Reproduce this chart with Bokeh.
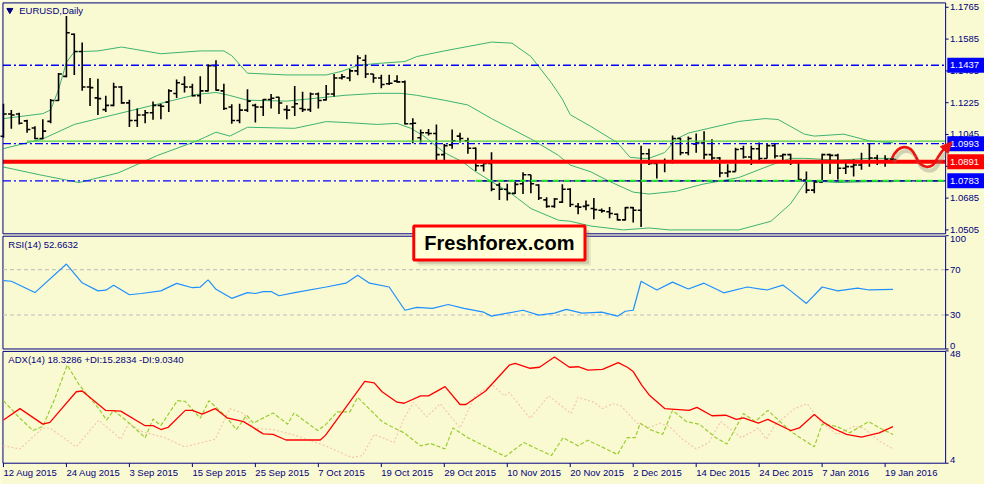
from bokeh.plotting import figure
from bokeh.models import Range1d
from bokeh.embed import file_html
from bokeh.resources import INLINE
from bokeh.core.properties import value

# ---------------- data ----------------
opens = [1.1035, 1.1161, 1.1161, 1.1122, 1.1082, 1.1022, 1.1119, 1.1237, 1.1374, 1.1612,
         1.1515, 1.1314, 1.1252, 1.1186, 1.1210, 1.1314, 1.1224, 1.1124, 1.1155, 1.1168,
         1.1210, 1.1228, 1.1277, 1.1329, 1.1314, 1.1265, 1.1292, 1.1435, 1.1292, 1.1201,
         1.1124, 1.1183, 1.1210, 1.1201, 1.1243, 1.1256, 1.1186, 1.1201, 1.1192, 1.1186,
         1.1274, 1.1241, 1.1274, 1.1365, 1.1365, 1.1405, 1.1465, 1.1387, 1.1365, 1.1332,
         1.1347, 1.1343, 1.1106, 1.1027, 1.1055, 1.1051, 1.0931, 1.0986, 1.1036, 1.1009,
         1.0967, 1.0868, 1.0881, 1.0759, 1.0735, 1.0712, 1.0766, 1.0817, 1.0759, 1.0675,
         1.0638, 1.0662, 1.0735, 1.0638, 1.0638, 1.0626, 1.0616, 1.0608, 1.0594, 1.0562,
         1.0631, 1.0616, 1.0936, 1.0881, 1.0890, 1.0894, 1.1022, 1.0942, 1.0991, 1.0997,
         1.0931, 1.0912, 1.0827, 1.0835, 1.0964, 1.0918, 1.0964, 1.0909, 1.0982, 1.0923,
         1.0931, 1.0887, 1.0787, 1.0730, 1.0777, 1.0931, 1.0927, 1.0854, 1.0863, 1.0872,
         1.0890, 1.0912, 1.0894, 1.0905]
highs = [1.1219, 1.1184, 1.1168, 1.1128, 1.1091, 1.1131, 1.1246, 1.1393, 1.1716, 1.1617,
         1.1566, 1.1365, 1.1361, 1.1265, 1.1338, 1.1320, 1.1241, 1.1192, 1.1183, 1.1232,
         1.1219, 1.1301, 1.1356, 1.1375, 1.1332, 1.1375, 1.1442, 1.1465, 1.1332, 1.1216,
         1.1219, 1.1301, 1.1219, 1.1246, 1.1274, 1.1259, 1.1210, 1.1320, 1.1287, 1.1283,
         1.1283, 1.1325, 1.1387, 1.1387, 1.1416, 1.1493, 1.1497, 1.1387, 1.1383, 1.1383,
         1.1380, 1.1350, 1.1137, 1.1073, 1.1076, 1.1101, 1.0991, 1.1073, 1.1055, 1.1027,
         1.0972, 1.0890, 1.0945, 1.0772, 1.0766, 1.0777, 1.0832, 1.0817, 1.0763, 1.0690,
         1.0686, 1.0763, 1.0741, 1.0657, 1.0671, 1.0686, 1.0626, 1.0635, 1.0598, 1.0635,
         1.0635, 1.0982, 1.0964, 1.0900, 1.0909, 1.1040, 1.1027, 1.1033, 1.1051, 1.1064,
         1.1018, 1.0918, 1.0876, 1.0970, 1.0982, 1.0982, 1.1000, 1.0991, 1.0991, 1.0936,
         1.0936, 1.0900, 1.0835, 1.0785, 1.0936, 1.0936, 1.0936, 1.0900, 1.0905, 1.0942,
         1.0991, 1.0931, 1.0927, 1.0912]
lows = [1.1027, 1.1077, 1.1101, 1.1055, 1.1018, 1.1018, 1.1109, 1.1234, 1.1369, 1.1382,
        1.1292, 1.1206, 1.1155, 1.1173, 1.1205, 1.1219, 1.1087, 1.1087, 1.1109, 1.1128,
        1.1131, 1.1173, 1.1252, 1.1283, 1.1260, 1.1219, 1.1288, 1.1292, 1.1183, 1.1106,
        1.1109, 1.1173, 1.1113, 1.1150, 1.1192, 1.1161, 1.1131, 1.1150, 1.1173, 1.1173,
        1.1192, 1.1237, 1.1260, 1.1356, 1.1347, 1.1380, 1.1365, 1.1338, 1.1307, 1.1325,
        1.1338, 1.1101, 1.0996, 1.1000, 1.1040, 1.0900, 1.0900, 1.0964, 1.1000, 1.0936,
        1.0838, 1.0835, 1.0724, 1.0675, 1.0671, 1.0708, 1.0708, 1.0712, 1.0675, 1.0631,
        1.0631, 1.0657, 1.0635, 1.0594, 1.0616, 1.0565, 1.0602, 1.0571, 1.0558, 1.0558,
        1.0547, 1.0521, 1.0872, 1.0796, 1.0832, 1.0881, 1.0927, 1.0927, 1.0942, 1.0905,
        1.0890, 1.0803, 1.0803, 1.0835, 1.0909, 1.0872, 1.0900, 1.0909, 1.0909, 1.0900,
        1.0872, 1.0781, 1.0712, 1.0712, 1.0772, 1.0821, 1.0790, 1.0821, 1.0808, 1.0845,
        1.0863, 1.0872, 1.0863, 1.0900]
closes = [1.1161, 1.1155, 1.1109, 1.1073, 1.1022, 1.1064, 1.1237, 1.1387, 1.1621, 1.1515,
          1.1314, 1.1310, 1.1248, 1.1210, 1.1314, 1.1224, 1.1124, 1.1155, 1.1168, 1.1210,
          1.1205, 1.1292, 1.1338, 1.1314, 1.1265, 1.1292, 1.1435, 1.1296, 1.1192, 1.1124,
          1.1183, 1.1234, 1.1201, 1.1243, 1.1250, 1.1223, 1.1183, 1.1219, 1.1186, 1.1274,
          1.1237, 1.1274, 1.1365, 1.1371, 1.1405, 1.1478, 1.1387, 1.1365, 1.1328, 1.1335,
          1.1343, 1.1106, 1.1109, 1.1055, 1.1051, 1.0931, 1.0982, 1.1009, 1.1022, 1.0967,
          1.0868, 1.0881, 1.0735, 1.0735, 1.0712, 1.0763, 1.0817, 1.0766, 1.0686, 1.0638,
          1.0680, 1.0735, 1.0649, 1.0634, 1.0644, 1.0620, 1.0613, 1.0598, 1.0562, 1.0631,
          1.0616, 1.0936, 1.0881, 1.0890, 1.0894, 1.1022, 1.0942, 1.1022, 1.0997, 1.0931,
          1.0912, 1.0827, 1.0835, 1.0960, 1.0918, 1.0964, 1.0909, 1.0982, 1.0923, 1.0931,
          1.0887, 1.0790, 1.0730, 1.0777, 1.0931, 1.0927, 1.0854, 1.0863, 1.0872, 1.0890,
          1.0912, 1.0894, 1.0905, 1.0903]

# Bollinger bands (bar index, price)
bb_up_i = [0, 5, 6, 7, 8, 9, 12, 15, 20, 25, 28, 29, 31, 36, 41, 43, 45, 47.5, 51, 52.5,
           56, 62, 64.6, 67, 69.6, 71, 72, 74.6, 78, 79.6, 81, 82, 84, 85.5, 87, 89.6, 93.4,
           96.75, 98.4, 101.75, 103, 106.75, 110, 113]
bb_up = [1.1135, 1.1163, 1.1184, 1.1299, 1.1453, 1.1513, 1.1518, 1.1540, 1.1502, 1.1518,
         1.1518, 1.1491, 1.1392, 1.1382, 1.1382, 1.1403, 1.1436, 1.1447, 1.1458, 1.1486,
         1.1518, 1.1568, 1.1562, 1.1486, 1.1338, 1.1245, 1.1157, 1.1091, 1.0998, 1.0916,
         1.0910, 1.0910, 1.0943, 1.1020, 1.1053, 1.1080, 1.1119, 1.1135, 1.1130, 1.1047,
         1.1036, 1.1047, 1.1009, 1.0998]
bb_mid_i = [0, 5, 9, 19.6, 24.6, 27, 28.75, 31, 36, 41, 43.4, 47.5, 50.5, 52.5, 56, 59, 62,
            67, 70.5, 72, 74.6, 77, 80, 82, 85.5, 88.75, 93.4, 97.5, 100, 101.75, 106, 110, 113]
bb_mid = [1.0965, 1.1020, 1.1102, 1.1217, 1.1272, 1.1283, 1.1266, 1.1239, 1.1234, 1.1256,
          1.1267, 1.1278, 1.1278, 1.1267, 1.1239, 1.1212, 1.1135, 1.1020, 1.0927, 1.0872,
          1.0834, 1.0779, 1.0719, 1.0708, 1.0724, 1.0763, 1.0801, 1.0872, 1.0910, 1.0910,
          1.0900, 1.0910, 1.0910]
bb_lo_i = [0, 4.6, 9.6, 14.6, 19.6, 24.6, 27, 28.75, 31, 37, 41, 43.4, 47.5, 50, 51.75, 53.4,
           56, 58.4, 60, 62, 64.6, 67, 70.5, 72, 74.6, 78.75, 82, 84.6, 93.4, 97.5, 100, 102,
           106, 110, 113]
bb_lo = [1.0861, 1.0817, 1.0773, 1.0828, 1.0927, 1.1009, 1.1058, 1.1036, 1.1086, 1.1080,
         1.1118, 1.1113, 1.1102, 1.1108, 1.1080, 1.1036, 1.0943, 1.0888, 1.0834, 1.0779,
         1.0708, 1.0626, 1.0560, 1.0554, 1.0527, 1.0505, 1.0516, 1.0505, 1.0505, 1.0554,
         1.0653, 1.0784, 1.0773, 1.0778, 1.0778]

# RSI(14)
rsi_i = [0, 1, 4, 8, 10, 12, 13, 14, 16, 17.5, 20, 22, 24, 25, 26, 27, 29, 31, 32, 33,
         34, 35, 37, 41, 43.5, 45, 46.5, 49, 51, 52.5, 54.5, 56.5, 58.5, 61, 62, 64, 66, 68,
         70, 71.5, 73.5, 76, 78, 79, 80, 81, 83, 85, 87, 89, 91.5, 94.5, 97, 99, 100, 102,
         104, 106, 108.5, 110, 113]
rsi = [60.4, 59.8, 49.8, 75.0, 58.4, 51.3, 51.9, 56.2, 47.9, 49.0, 51.3, 57.9, 54.1, 54.7,
       61.0, 52.7, 44.7, 49.8, 49.0, 50.7, 50.7, 47.0, 49.8, 54.7, 58.1, 65.0, 58.1, 54.7,
       34.2, 36.8, 35.9, 39.3, 35.9, 32.5, 29.0, 31.6, 34.2, 29.9, 31.6, 35.0, 31.6, 32.5,
       29.0, 33.3, 34.2, 59.8, 52.1, 59.0, 53.0, 58.1, 49.6, 54.7, 52.1, 56.4, 51.3, 40.2,
       54.7, 51.3, 53.8, 52.1, 52.7]

# ADX(14), +DI, -DI
adx_i = [0, 2.1, 5, 5.9, 9.25, 10, 13, 14.9, 18, 19, 20, 20.9, 23.1, 24, 25.25, 26.9, 28.4,
         30.5, 33, 34.25, 35.9, 40.25, 40.9, 45.9, 47.1, 48.1, 50, 50.9, 53, 54, 56.1, 58,
         58.75, 61.25, 64.25, 65, 66.9, 68.1, 70, 71.9, 73, 74.25, 76.1, 78.1, 79.25, 80,
         81.1, 82.1, 84, 87.1, 88.1, 90, 91.75, 93.1, 94, 95.9, 97.1, 100, 101.1, 103,
         104.25, 105.5, 107.1, 109, 111.25, 113]
adx = [20.9, 25.4, 19.3, 20.0, 32.0, 32.3, 24.7, 24.4, 18.7, 18.7, 17.2, 18.0, 24.7, 24.7,
       23.2, 25.4, 21.8, 20.3, 15.5, 15.3, 13.1, 13.1, 14.9, 36.1, 35.5, 32.0, 27.9, 27.5,
       30.4, 30.4, 34.0, 27.0, 27.0, 32.3, 42.4, 43.1, 41.2, 41.6, 45.6, 41.6, 41.8, 40.5,
       40.8, 43.4, 41.6, 39.9, 34.5, 30.5, 25.4, 24.7, 25.9, 22.6, 22.8, 21.2, 21.8, 19.7,
       21.2, 16.8, 17.8, 23.1, 19.9, 17.5, 15.3, 14.2, 15.9, 18.3]
pdi_i = [0, 2.1, 3.75, 5, 6.5, 8.1, 9.6, 12.1, 13.1, 14, 15.9, 18, 19, 20, 22.1, 23.1, 25,
         26.1, 28.1, 29.6, 30.9, 31.75, 34.25, 36.1, 36.9, 39.9, 40.9, 42.4, 44, 45, 48.1,
         49.25, 50.9, 53, 54.25, 56.1, 57.1, 59, 63.75, 66.1, 69.6, 71.1, 73, 74.25, 78,
         79.25, 80.25, 80.9, 82.1, 83.75, 85, 86.75, 88.4, 90.5, 91.9, 94, 95.5, 97.1, 100,
         103, 104, 105.9, 107.5, 109.9, 111.5, 113]
pdi = [28.5, 21.6, 16.8, 18.4, 29.1, 42.4, 34.8, 25.4, 20.9, 24.7, 19.9, 14.0, 21.3, 18.8,
       28.5, 28.2, 21.6, 28.5, 22.8, 17.2, 22.8, 19.7, 23.7, 19.3, 23.7, 16.8, 19.0, 24.1,
       24.1, 29.8, 20.3, 18.4, 15.9, 10.8, 11.7, 9.6, 17.8, 14.0, 6.6, 12.1, 7.0, 14.0, 10.8,
       13.0, 7.4, 14.0, 14.0, 19.7, 17.2, 15.3, 24.7, 20.3, 19.3, 14.0, 11.5, 23.5, 20.3,
       24.7, 16.5, 10.4, 19.3, 18.4, 15.9, 20.3, 17.5, 15.3]
mdi_i = [0, 2.1, 5, 5.9, 9.25, 12.1, 14.9, 15.9, 17.5, 20.5, 23, 26.9, 28.75, 30.5, 31.75,
         34.25, 37.1, 40.9, 44.25, 45.6, 47.1, 49.6, 50.9, 52.1, 53.75, 55.5, 58, 59.9, 62.1,
         63.6, 64.25, 66.9, 69.25, 72.1, 73, 75, 76.1, 77.4, 78.4, 80.5, 82.1, 83.4, 84.6,
         86.25, 88, 89.6, 91.1, 93.75, 95.9, 96.9, 98, 100.5, 102.1, 103.75, 105.9, 108,
         109.25, 111.25, 113]
mdi = [10.8, 9.6, 17.8, 17.8, 10.4, 20.9, 13.4, 19.7, 16.5, 14.0, 10.4, 13.4, 25.4, 23.5,
       17.8, 17.2, 14.9, 10.8, 6.2, 7.0, 15.3, 12.1, 21.6, 27.9, 22.2, 27.3, 17.8, 30.4, 34.8,
       30.4, 31.7, 21.6, 30.4, 23.5, 29.8, 27.9, 25.4, 27.3, 26.6, 19.7, 18.0, 19.7, 18.4,
       13.4, 9.6, 12.1, 20.3, 14.0, 17.8, 13.4, 19.0, 25.4, 27.3, 20.3, 15.3, 18.4, 17.8,
       12.7, 9.6]

price_ticks = [1.1765, 1.1585, 1.1405, 1.1225, 1.1045, 1.0865, 1.0685, 1.0505]
rsi_ticks = [100, 70, 30, 0]
rsi_levels = [70, 30]
adx_ticks = [48, 4]
level_blue = [1.1437, 1.0993, 1.0783]
level_red = 1.0891
level_green = 1.1007
box_levels = [1.1437, 1.0993, 1.0891, 1.0783]
date_i = [0, 8, 16, 24, 32, 40, 48, 56, 64, 72, 80, 88, 96, 104, 112]
date_labels = ["12 Aug 2015", "24 Aug 2015", "3 Sep 2015", "15 Sep 2015", "25 Sep 2015",
               "7 Oct 2015", "19 Oct 2015", "29 Oct 2015", "10 Nov 2015", "20 Nov 2015",
               "2 Dec 2015", "14 Dec 2015", "24 Dec 2015", "7 Jan 2016", "19 Jan 2016"]

# ---------------- layout (in reference-pixel units, scaled by Bokeh to the canvas) -------
W, H = 984, 484
RW, RH = 1000, 500            # reference picture size
X0, DX = 3.0, 8.0             # ref x of first bar, spacing
PANE_L, PANE_R = 2.5, 960.5
BG = "#FAFAD2"
NAVY = "#000080"
FONT = value("Liberation Sans")
FS = "9.5px"


def lin_range(va, ya, vb, yb):
    s = (vb - va) / (yb - ya)
    return Range1d(start=va + (RH - ya) * s, end=va + (0 - ya) * s)


p = figure(width=W, height=H,
           x_range=Range1d((0 - X0) / DX, (RW - X0) / DX),
           y_range=Range1d(RH, 0),
           output_backend="svg", toolbar_location=None, min_border=0,
           x_axis_location=None, y_axis_location=None)
p.extra_x_ranges = {"px": Range1d(0, RW)}
p.extra_y_ranges = {"price": lin_range(1.1765, 7, 1.0505, 237),
                    "rsi": lin_range(100, 243, 0, 360),
                    "adx": lin_range(48, 362, 4, 478)}
p.background_fill_color = BG
p.border_fill_color = BG
p.outline_line_color = None
p.xgrid.visible = False
p.ygrid.visible = False
pane_l_i = (PANE_L - X0) / DX
pane_r_i = (PANE_R - X0) / DX

# ---- main pane ----
for xi, yv in ((bb_up_i, bb_up), (bb_mid_i, bb_mid), (bb_lo_i, bb_lo)):
    p.line(xi, yv, y_range_name="price", line_color="#3CB371", line_width=1)

xs = list(range(len(opens)))
p.segment(xs, highs, xs, lows, y_range_name="price", line_color="black", line_width=1.6)
p.segment([x - 0.42 for x in xs], opens, xs, opens, y_range_name="price",
          line_color="black", line_width=1.6)
p.segment(xs, closes, [x + 0.42 for x in xs], closes, y_range_name="price",
          line_color="black", line_width=1.6)

# horizontal levels
p.segment([pane_l_i] * 3, level_blue, [pane_r_i] * 3, level_blue,
          y_range_name="price", line_color="#0000FF", line_width=1.3, line_dash="8 3 2 3")
p.segment([60], [level_blue[2]], [pane_r_i], [level_blue[2]], y_range_name="price",
          line_color=NAVY, line_width=1.3)
p.segment([60], [level_blue[2]], [pane_r_i], [level_blue[2]], y_range_name="price",
          line_color="#22EE22", line_width=2, line_dash="6 5")
p.segment([3], [level_green], [pane_r_i], [level_green], y_range_name="price",
          line_color="#44CC44", line_width=1.3)
p.segment([pane_l_i], [level_red], [pane_r_i], [level_red], y_range_name="price",
          line_color="#FF0000", line_width=4)

# pane borders
p.quad(left=[PANE_L] * 3, right=[PANE_R] * 3, top=[2.5, 243.5, 362.5],
       bottom=[241, 360, 478], x_range_name="px", fill_color=None,
       line_color=NAVY, line_width=1)

# right price labels
p.segment([PANE_R] * len(price_ticks), price_ticks, [PANE_R + 3] * len(price_ticks), price_ticks,
          x_range_name="px", y_range_name="price", line_color=NAVY)
p.text([965] * len(price_ticks), price_ticks, text=[f"{v:.4f}" for v in price_ticks],
       x_range_name="px", y_range_name="price", text_font=FONT, text_font_size=FS,
       text_color=NAVY, text_baseline="middle", text_align="left")

box_cols = ["#0000FF", "#0000FF", "#FF0000", "#0000FF"]
p.rect([981] * 4, box_levels, width=37, height=15, width_units="screen", height_units="screen",
       x_range_name="px", y_range_name="price", fill_color=box_cols, line_color=None)
p.text([965] * 4, box_levels, text=[f"{v:.4f}" for v in box_levels], x_range_name="px",
       y_range_name="price", text_font=FONT, text_font_size=FS, text_color="white",
       text_baseline="middle", text_align="left")

# wavy arrow (annotation) with shadow
bz = dict(x0=[906, 930, 952], y0=[163, 161, 163], cx0=[912, 935, 955], cy0=[149, 174, 158],
          cx1=[924, 947, 958], cy1=[147, 176, 154], x1=[930, 952, 961], y1=[161, 163, 151])
p.bezier(x0=[v + 2 for v in bz["x0"]], y0=[v + 4 for v in bz["y0"]],
         cx0=[v + 2 for v in bz["cx0"]], cy0=[v + 4 for v in bz["cy0"]],
         cx1=[v + 2 for v in bz["cx1"]], cy1=[v + 4 for v in bz["cy1"]],
         x1=[v + 2 for v in bz["x1"]], y1=[v + 4 for v in bz["y1"]],
         x_range_name="px", line_color="#888877", line_alpha=0.35, line_width=4)
p.bezier(x_range_name="px", line_color="#EE1111", line_width=2.6, **bz)
p.patch([967, 955, 963], [146, 151, 158], x_range_name="px", color="#EE1111")

# title
p.scatter([9.5], [10], marker="inverted_triangle", size=6, color=NAVY, x_range_name="px")
p.text([19], [10], text=["EURUSD,Daily"], x_range_name="px", text_font=FONT,
       text_font_size=FS, text_color=NAVY, text_baseline="middle")

# ---- RSI pane ----
p.segment([PANE_L] * 2, rsi_levels, [PANE_R] * 2, rsi_levels, x_range_name="px",
          y_range_name="rsi", line_color="#BBBBBB", line_dash="4 3", line_width=1)
p.line(rsi_i, rsi, y_range_name="rsi", line_color="#1E90FF", line_width=1.2)
p.text([8], [252], text=["RSI(14) 52.6632"], x_range_name="px", text_font=FONT,
       text_font_size=FS, text_color=NAVY, text_baseline="middle")
p.segment([PANE_R] * 4, rsi_ticks, [PANE_R + 3] * 4, rsi_ticks, x_range_name="px",
          y_range_name="rsi", line_color=NAVY)
p.text([965] * 4, rsi_ticks, text=[str(v) for v in rsi_ticks], x_range_name="px",
       y_range_name="rsi", text_font=FONT, text_font_size=FS, text_color=NAVY,
       text_baseline=["top", "middle", "middle", "bottom"], text_align="left")

# ---- ADX pane ----
p.line(mdi_i, mdi, y_range_name="adx", line_color="#F5C8A8", line_width=1.2, line_dash="2 2")
p.line(pdi_i, pdi, y_range_name="adx", line_color="#9ACD32", line_width=1.2, line_dash="4 2")
p.line(adx_i, adx, y_range_name="adx", line_color="#FF0000", line_width=1.3)
p.text([8], [371], text=["ADX(14) 18.3286 +DI:15.2834 -DI:9.0340"], x_range_name="px",
       text_font=FONT, text_font_size=FS, text_color=NAVY, text_baseline="middle")
p.segment([PANE_R] * 2, adx_ticks, [PANE_R + 3] * 2, adx_ticks, x_range_name="px",
          y_range_name="adx", line_color=NAVY)
p.text([965] * 2, adx_ticks, text=[str(v) for v in adx_ticks], x_range_name="px",
       y_range_name="adx", text_font=FONT, text_font_size=FS, text_color=NAVY,
       text_baseline=["top", "bottom"], text_align="left")

# ---- date axis ----
p.segment(date_i, [478] * len(date_i), date_i, [482] * len(date_i), line_color=NAVY)
p.text(date_i, [488] * len(date_i), text=date_labels, text_font=FONT, text_font_size=FS,
       text_color=NAVY, text_baseline="middle", text_align="left")

# ---- logo ----
p.quad(left=[423, 425], right=[598, 600], top=[237, 239], bottom=[272, 274], x_range_name="px",
       fill_color="#777766", fill_alpha=[0.25, 0.15], line_color=None)
p.quad(left=[420], right=[594], top=[233], bottom=[268], x_range_name="px",
       fill_color="#FFFFD8", line_color="#FF0000", line_width=3)
p.text([507], [251], text=["Freshforex.com"], x_range_name="px", text_font=FONT,
       text_font_size="20px", text_font_style="bold", text_color="black",
       text_align="center", text_baseline="middle")

open("out.html", "w").write(file_html(p, INLINE))
